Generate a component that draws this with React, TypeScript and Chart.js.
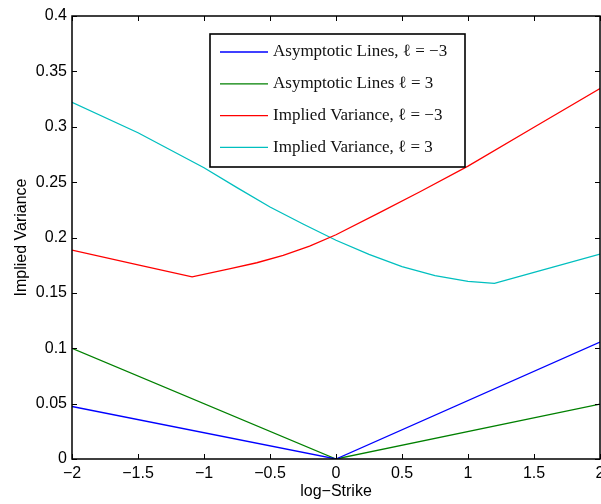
import React, { useEffect, useRef } from "react";
import { Chart, registerables } from "chart.js";

Chart.register(...registerables);

// ---- data ----
const xTickValues = [-2, -1.5, -1, -0.5, 0, 0.5, 1, 1.5, 2];
const xTickLabels = ["−2", "−1.5", "−1", "−0.5", "0", "0.5", "1", "1.5", "2"];
const yTickValues = [0, 0.05, 0.1, 0.15, 0.2, 0.25, 0.3, 0.35, 0.4];
const yTickLabels = ["0", "0.05", "0.1", "0.15", "0.2", "0.25", "0.3", "0.35", "0.4"];

const asymX = [-2, 0, 2];
const asymNeg3Y = [0.0474, 0, 0.1055];
const asymPos3Y = [0.1, 0, 0.0495];

const ivNeg3X = [-2, -1.5, -1.09, -0.8, -0.6, -0.4, -0.2, 0, 0.33, 0.64, 1, 1.5, 2];
const ivNeg3Y = [0.1886, 0.1752, 0.1644, 0.1718, 0.1772, 0.1838, 0.1922, 0.2025, 0.2225, 0.2415, 0.2645, 0.2995, 0.3345];

const ivPos3X = [-2, -1.5, -1, -0.75, -0.5, -0.25, 0, 0.25, 0.5, 0.75, 1, 1.2, 1.5, 2];
const ivPos3Y = [0.322, 0.2946, 0.263, 0.245, 0.2275, 0.2122, 0.1975, 0.1847, 0.1738, 0.1655, 0.1604, 0.1585, 0.1685, 0.185];

const seriesLabels = [
  "Asymptotic Lines, ℓ = −3",
  "Asymptotic Lines ℓ = 3",
  "Implied Variance, ℓ = −3",
  "Implied Variance, ℓ = 3",
];
const seriesColors = ["#0000ff", "#008000", "#ff0000", "#00bfbf"];

const zip = (xs: number[], ys: number[]) => xs.map((x, i) => ({ x, y: ys[i] }));

const SANS = "'Liberation Sans', Arial, Helvetica, sans-serif";
const SERIF = "'Liberation Serif', 'Times New Roman', serif";

const framePlugin = {
  id: "matlabFrame",
  afterDatasetsDraw(chart: any) {
    const { ctx, chartArea } = chart;
    const { left, right, top, bottom } = chartArea;
    const xs = chart.scales.x;
    const ys = chart.scales.y;
    const tl = 5;
    ctx.save();
    ctx.strokeStyle = "#000";
    ctx.lineWidth = 1.5;
    ctx.beginPath();
    ctx.rect(left, top, right - left, bottom - top);
    ctx.stroke();
    ctx.lineWidth = 1;
    ctx.beginPath();
    xTickValues.forEach((v) => {
      const px = Math.round(xs.getPixelForValue(v)) + 0.5;
      ctx.moveTo(px, bottom);
      ctx.lineTo(px, bottom - tl);
      ctx.moveTo(px, top);
      ctx.lineTo(px, top + tl);
    });
    yTickValues.forEach((v) => {
      const py = Math.round(ys.getPixelForValue(v)) + 0.5;
      ctx.moveTo(left, py);
      ctx.lineTo(left + tl, py);
      ctx.moveTo(right, py);
      ctx.lineTo(right - tl, py);
    });
    ctx.stroke();
    ctx.restore();
  },
};

const legendPlugin = {
  id: "matlabLegend",
  afterDraw(chart: any) {
    const { ctx, chartArea } = chart;
    const bx = chartArea.left + 138;
    const by = chartArea.top + 18;
    const bw = 255;
    const bh = 133;
    ctx.save();
    ctx.fillStyle = "#fff";
    ctx.fillRect(bx, by, bw, bh);
    ctx.strokeStyle = "#000";
    ctx.lineWidth = 1.6;
    ctx.strokeRect(bx, by, bw, bh);
    ctx.font = `17px ${SERIF}`;
    ctx.textBaseline = "middle";
    ctx.textAlign = "left";
    seriesLabels.forEach((lab, i) => {
      const y = by + 18 + i * 31.8;
      ctx.strokeStyle = seriesColors[i];
      ctx.lineWidth = 1.3;
      ctx.beginPath();
      ctx.moveTo(bx + 10, y);
      ctx.lineTo(bx + 58, y);
      ctx.stroke();
      ctx.fillStyle = "#111";
      ctx.fillText(lab, bx + 63, y);
    });
    ctx.restore();
  },
};

export default function App() {
  const ref = useRef<HTMLCanvasElement | null>(null);
  useEffect(() => {
    if (!ref.current) return;
    const mk = (label: string, data: any[], color: string) => ({
      label,
      data,
      borderColor: color,
      backgroundColor: color,
      borderWidth: 1.3,
      pointRadius: 0,
      fill: false,
      tension: 0,
    });
    const chart = new Chart(ref.current, {
      type: "line",
      data: {
        datasets: [
          mk(seriesLabels[0], zip(asymX, asymNeg3Y), seriesColors[0]),
          mk(seriesLabels[1], zip(asymX, asymPos3Y), seriesColors[1]),
          mk(seriesLabels[2], zip(ivNeg3X, ivNeg3Y), seriesColors[2]),
          mk(seriesLabels[3], zip(ivPos3X, ivPos3Y), seriesColors[3]),
        ],
      },
      options: {
        animation: false,
        responsive: false,
        layout: { padding: { top: 16, right: 1, left: 0, bottom: 0 } },
        plugins: { legend: { display: false }, tooltip: { enabled: false } },
        scales: {
          x: {
            type: "linear",
            min: -2,
            max: 2,
            grid: { display: false, drawTicks: false },
            border: { display: false },
            afterBuildTicks: (s: any) => {
              s.ticks = xTickValues.map((v) => ({ value: v }));
            },
            afterFit: (s: any) => {
              s.height = 45;
              s.paddingLeft = 0;
              s.paddingRight = 0;
            },
            ticks: {
              autoSkip: false,
              maxRotation: 0,
              padding: 5,
              color: "#000",
              font: { family: SANS, size: 16 },
              callback: (_v: any, i: number) => xTickLabels[i],
            },
            title: {
              display: true,
              text: "log−Strike",
              color: "#000",
              font: { family: SANS, size: 16 },
              padding: { top: 0, bottom: 3 },
            },
          },
          y: {
            type: "linear",
            min: 0,
            max: 0.4,
            grid: { display: false, drawTicks: false },
            border: { display: false },
            afterBuildTicks: (s: any) => {
              s.ticks = yTickValues.map((v) => ({ value: v }));
            },
            afterFit: (s: any) => {
              s.width = 72;
              s.paddingTop = 0;
              s.paddingBottom = 0;
            },
            ticks: {
              autoSkip: false,
              padding: 5,
              color: "#000",
              font: { family: SANS, size: 16 },
              callback: (_v: any, i: number) => yTickLabels[i],
            },
            title: {
              display: true,
              text: "Implied Variance",
              color: "#000",
              font: { family: SANS, size: 16 },
              padding: { top: 12, bottom: 0 },
            },
          },
        },
      },
      plugins: [framePlugin, legendPlugin],
    });
    return () => chart.destroy();
  }, []);
  return (
    <div style={{ position: "absolute", left: 0, top: 0, width: 601, height: 504, background: "#fff" }}>
      <canvas ref={ref} width={601} height={504} style={{ display: "block" }} />
    </div>
  );
}
